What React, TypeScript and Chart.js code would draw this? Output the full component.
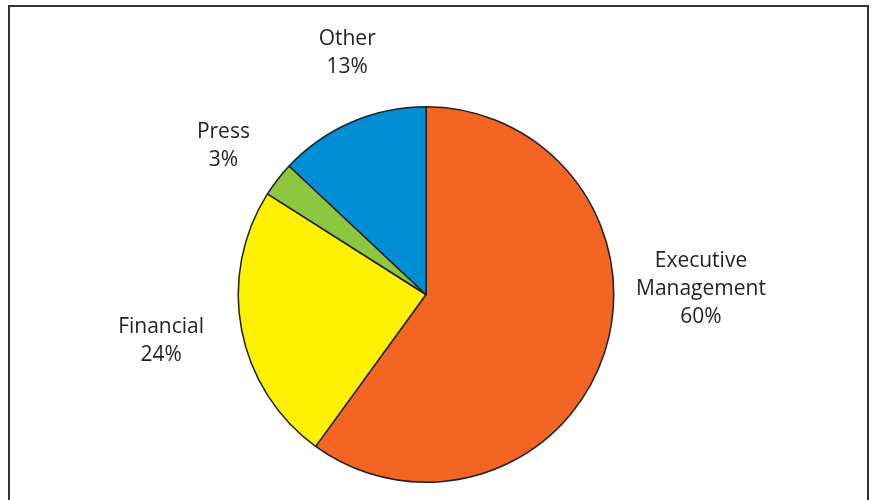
import React, { useEffect, useRef } from "react";
import { Chart, registerables } from "chart.js";

Chart.register(...registerables);

const categories = ["Executive Management", "Financial", "Press", "Other"];
const shares = [60, 24, 3, 13];
const labelLines = [["Executive", "Management", "60%"], ["Financial", "24%"], ["Press", "3%"], ["Other", "13%"]];
const sliceColors = ["#F26522", "#FFF200", "#8DC63F", "#008FD5"];

// label layout: angle (deg, canvas coords) and distance from pie centre (px)
const labelAngles = [-1.1, 170.0, -143.7, -108.1];
const labelDistances = [275, 269, 251.4, 253.6];

const labelPlugin = {
  id: "outsideLabels",
  afterDraw(chart: any) {
    const ctx = chart.ctx;
    const meta = chart.getDatasetMeta(0);
    ctx.save();
    ctx.font = '21px "Open Sans"';
    ctx.fillStyle = "#231f20";
    ctx.textAlign = "center";
    ctx.textBaseline = "middle";
    const lh = 28;
    meta.data.forEach((arc: any, i: number) => {
      const a = (labelAngles[i] * Math.PI) / 180;
      const cx = arc.x + Math.cos(a) * labelDistances[i];
      const cy = arc.y + Math.sin(a) * labelDistances[i];
      const lines = labelLines[i];
      const y0 = cy - ((lines.length - 1) * lh) / 2;
      lines.forEach((t, j) => ctx.fillText(t, cx, y0 + j * lh));
    });
    ctx.restore();
  },
};

export default function App() {
  const ref = useRef<HTMLCanvasElement | null>(null);
  useEffect(() => {
    if (!ref.current) return;
    const chart = new Chart(ref.current, {
      type: "pie",
      data: {
        labels: categories,
        datasets: [
          {
            data: shares,
            backgroundColor: sliceColors,
            borderColor: "#231f20",
            borderWidth: 1.5,
          },
        ],
      },
      options: {
        responsive: false,
        animation: false,
        layout: { padding: { left: 237.5, right: 257.5, top: 106, bottom: 17 } },
        plugins: { legend: { display: false }, tooltip: { enabled: false } },
      },
      plugins: [labelPlugin],
    });
    return () => chart.destroy();
  }, []);
  return (
    <div style={{ position: "fixed", left: 0, top: 0, width: 872, height: 500, overflow: "hidden", background: "#fff" }}>
      <div
        style={{
          position: "absolute",
          left: 8,
          top: 5,
          width: 861,
          height: 600,
          boxSizing: "border-box",
          borderTop: "2px solid #333",
          borderLeft: "2px solid #333",
          borderRight: "2px solid #333",
        }}
      />
      <canvas ref={ref} width={872} height={500} style={{ position: "absolute", left: 0, top: 0 }} />
    </div>
  );
}
